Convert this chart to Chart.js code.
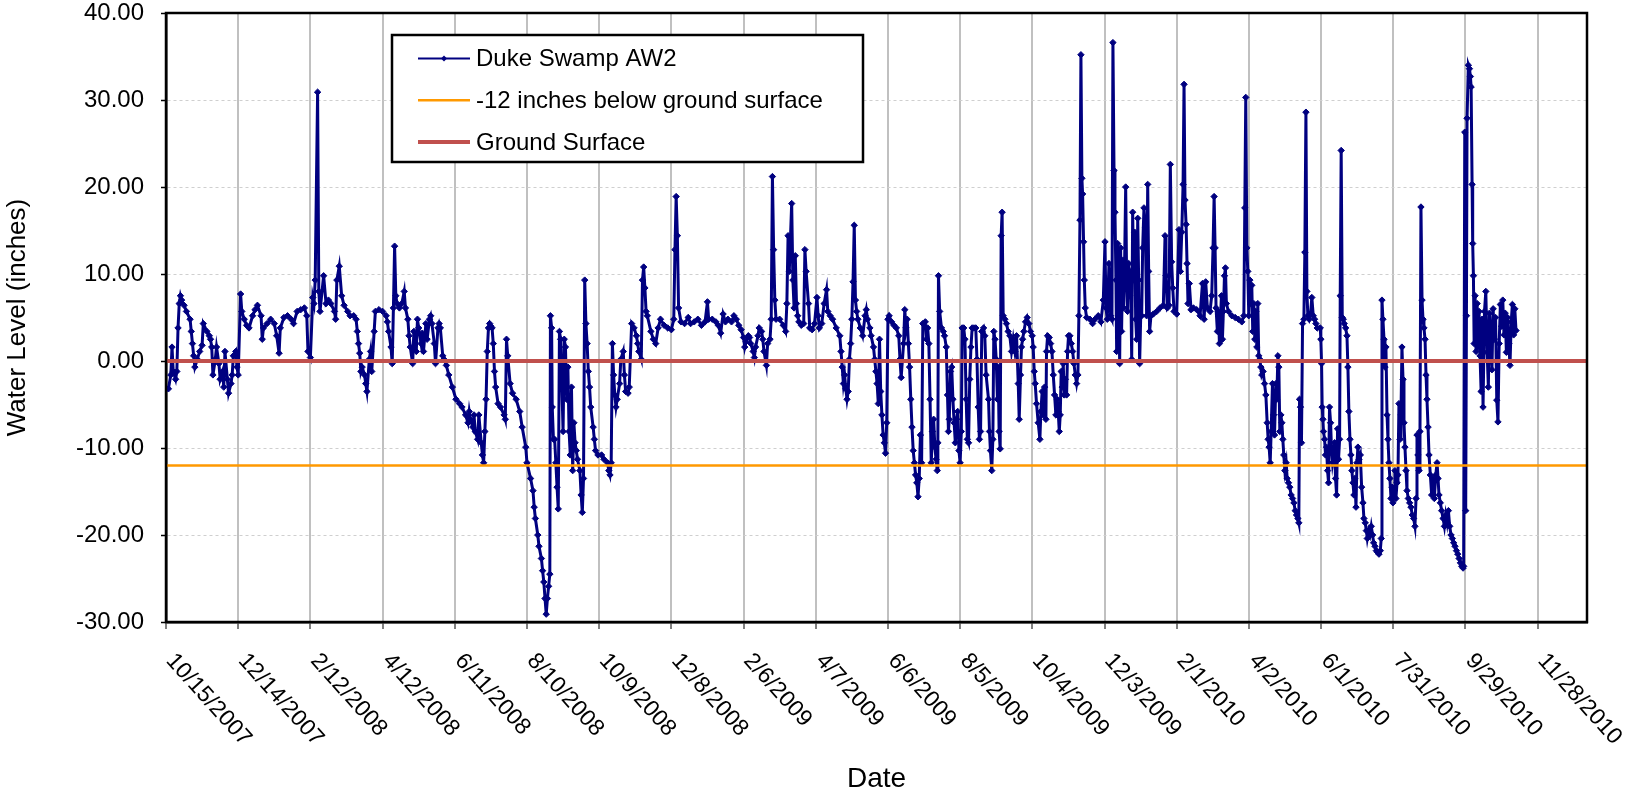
<!DOCTYPE html>
<html>
<head>
<meta charset="utf-8">
<title>Duke Swamp AW2 - Water Level</title>
<script src="https://cdn.jsdelivr.net/npm/chart.js@4.4.1/dist/chart.umd.min.js"></script>
<style>
  html, body { margin: 0; padding: 0; background: #fff; }
  #wrap { width: 1636px; height: 796px; }
</style>
</head>
<body>
<div id="wrap"><canvas id="chart" width="1636" height="796"></canvas></div>
<script>
// Water level at Duke Swamp AW2, days counted from 10/15/2007
const tickDays = [0, 60, 120, 180, 240, 300, 360, 420, 480, 540, 600, 660, 720, 780, 840, 900, 960, 1020, 1080, 1140];
const tickLabels = ['10/15/2007', '12/14/2007', '2/12/2008', '4/12/2008', '6/11/2008', '8/10/2008', '10/9/2008',
  '12/8/2008', '2/6/2009', '4/7/2009', '6/6/2009', '8/5/2009', '10/4/2009', '12/3/2009', '2/1/2010', '4/2/2010',
  '6/1/2010', '7/31/2010', '9/29/2010', '11/28/2010'];
const axisEndDay = 1181;
const belowGround = -12;
const groundSurface = 0;

const days = [
  2,4,5,6,8,9,10,11,12,13,15,17,
  20,21,22,23,24,26,28,30,31,34,36,37,
  38,39,41,42,44,45,47,48,49,51,52,54,
  55,56,58,59,60,62,63,65,67,69,72,74,
  76,79,80,81,84,87,90,92,94,95,98,101,
  104,106,109,112,115,117,118,120,122,123,124,126,
  127,128,131,133,135,137,140,141,142,144,146,148,
  151,153,156,158,159,160,161,162,163,165,166,167,
  169,170,171,173,174,177,180,183,184,185,187,188,
  189,190,191,192,194,196,198,199,201,202,203,205,
  206,208,209,210,212,213,214,216,217,219,220,221,
  223,224,226,227,228,230,231,233,235,238,241,244,
  246,249,251,252,253,255,256,257,259,260,262,263,
  264,265,266,267,268,269,270,271,272,273,274,276,
  278,281,282,283,284,286,288,291,294,296,299,300,
  303,305,306,307,309,310,312,313,314,315,316,317,
  318,319,319.5,320.5,321,322,323,324,325,326,327,328,
  329,330,331,332,333,334,335,336,337,338,339,340,
  341,342,344,345,346,347,348,349,350,351,352,353,
  355,356,357,359,362,364,367,368,369,370,371,372,
  373,374,375,377,378,380,381,382,384,385,387,389,
  391,392,393,395,396,397,398,399,400,403,405,407,
  409,411,414,417,420,422,423,424,425,426,428,431,
  434,436,439,442,445,448,450,451,454,457,459,461,
  463,465,467,470,472,474,476,478,480,481,482,484,
  485,486,488,489,490,492,493,495,496,497,499,500,
  502,503,504,505,506,507,510,513,515,516,517,518,
  520,521,522,523,524,525,526,528,530,531,532,534,
  535,537,539,541,542,543,545,547,549,550,552,554,
  557,560,561,562,563,564,565,566,567,568,569,570,
  571,572,573,574,575,577,579,581,582,583,585,586,
  588,589,590,591,592,593,594,595,596,597,598,599,
  600,601,603,605,607,609,610,611,613,614,615,616,
  617,618,619,620,621,622,623,624,625,626,627,628,
  629,631,632,633,634,635,636,637,638,639,640,641,
  641.5,642,643,644.5,646,647,648.5,649.5,650.3,651,652,653,
  654,655,656,657,658,659,660,661,661.7,663,664,665,
  666,667,668,669,670,671.5,673,674,675,676,677,678,
  679.5,680.5,681.6,683.6,684.4,685.2,686.3,687.2,688,689,690,691,
  691.6,692.4,693.3,694.1,694.9,695.8,697.2,698.5,699.9,701.3,702.7,704.1,
  705.5,706.9,708.3,709.1,710.2,711,711.9,713,714.4,715.7,717.1,718.5,
  719.9,720.7,721.6,722.4,723.5,724.9,726.3,727.1,728.2,729.1,730.2,731.3,
  731.8,732.7,734,735.2,736.3,737.4,738.5,739.6,740.7,741.5,742.4,743.2,
  744,744.9,745.7,746.5,747.4,748.5,749.3,750.1,751.2,752.4,753.5,754.6,
  755.7,756.8,757.9,758.7,759.6,760.4,761.2,761.8,762.6,763.2,764,765.1,
  767.9,770.1,772.1,774.8,777,779,780.4,781.2,782.3,783.7,785.1,786.2,
  787,787.9,788.7,789.5,790.1,790.9,791.7,792.6,793.4,794.2,795.1,795.9,
  796.7,797.6,798.4,799.2,800.1,800.9,801.7,802.6,803.4,804.2,805.1,805.9,
  806.7,807.6,808.4,809.2,810.1,810.9,811.7,812.8,813.9,815,815.9,816.7,
  817.5,818.6,820.6,823.4,826.1,828.9,830.3,831.1,832.2,833.6,834.7,835.8,
  836.7,837.8,840,841.9,843.1,844.2,845.3,846.1,846.9,847.8,848.6,849.4,
  850.5,851.9,853.9,856.6,859.4,861.4,862.8,864.1,865.5,867.7,869.1,870.2,
  871.1,871.9,872.7,873.8,874.7,875.5,876.3,877.2,878,878.8,879.7,880.5,
  881.3,883,885.8,888.6,891.3,894.1,895.8,896.6,897.4,898.3,899.1,899.9,
  900.8,901.6,902.4,903.2,904.1,904.9,905.7,906.6,907.4,908.2,909.1,909.9,
  910.7,911.8,913,914.1,915.2,916,916.8,917.7,918.5,919.6,920.5,921.3,
  922.4,923.2,924.1,924.9,925.7,926.6,927.4,928.2,929,929.9,931,931.8,
  932.9,934,935.1,936.3,937.4,938.5,939.6,940.7,941.5,942.1,942.9,943.7,
  944.6,945.7,946.5,947.4,948.2,949,950.1,951.2,952.3,953.5,954.6,955.7,
  956.8,959.3,959.8,960.4,960.9,961.5,962,962.9,963.7,964.5,965.4,966.2,
  967,967.9,968.7,969.5,970.4,971.2,972,972.9,973.7,974.5,975.4,975.9,
  976.7,977.6,978.4,979.2,980.4,981.5,982.3,983.1,984,984.8,985.6,986.5,
  987.3,988.1,989,989.8,990.6,991.5,992.6,993.7,994.8,995.6,996.7,997.6,
  998.4,999.5,1000.6,1001.7,1002.8,1003.7,1004.8,1005.9,1007,1008.1,1009.2,1010,
  1010.6,1011.4,1012.3,1013.1,1013.9,1014.8,1015.6,1016.4,1017.2,1018.1,1018.9,1019.7,
  1020.6,1021.4,1022.2,1023.1,1023.9,1024.7,1025.6,1026.4,1027.2,1028.1,1028.9,1029.7,
  1030.6,1031.4,1032.5,1033.6,1034.7,1035.8,1036.9,1038,1038.9,1039.7,1040.5,1041.4,
  1042.2,1043,1043.9,1044.7,1045.5,1046.4,1047.2,1048,1048.9,1049.7,1050.8,1051.9,
  1053,1054.1,1055.3,1056.4,1057.2,1058,1059.1,1060.2,1061.4,1062.5,1063.6,1064.7,
  1065.8,1066.9,1068,1069.1,1070.2,1071.3,1072.5,1073.6,1074.7,1075.8,1076.9,1078,
  1078.5,1079.4,1080.2,1080.8,1081.3,1082.4,1083.3,1084.1,1084.7,1085.5,1086,1086.6,
  1087.2,1088,1088.8,1089.7,1090.5,1091.3,1092.1,1093,1093.8,1094.6,1095.8,1096.9,
  1098,1099,1100,1101,1102,1103,1104,1105,1106,1107,1108,1109,
  1110,1111,1112,1113,1114,1115,1116,1117,1118,1119,1120,1121,1122
];

const waterLevel = [
  -3.2,-1.6,1.6,-1.2,-2.1,-1.2,3.8,6.6,7.5,7.0,6.4,5.7,
  4.8,3.4,2.0,0.6,-0.7,0.2,1.1,1.8,4.3,3.4,2.9,2.5,
  1.6,-1.6,0.2,1.6,-0.3,-2.1,-1.2,-3.0,1.1,-2.1,-3.7,-2.6,
  -1.6,0.6,1.1,-0.7,-1.6,7.7,5.7,4.8,4.1,3.8,5.2,5.9,
  6.4,5.2,2.5,3.8,4.3,4.8,4.3,2.9,0.9,3.8,5.0,5.2,
  4.8,4.3,5.7,5.9,6.1,5.2,1.1,0.4,7.3,6.6,9.3,30.9,
  8.0,5.7,9.8,6.6,7.0,6.6,5.7,4.8,9.3,10.9,7.5,6.4,
  5.7,5.2,5.2,4.8,3.4,2.0,0.9,-1.2,-0.7,-1.6,-2.6,-3.5,
  0.2,1.1,-1.2,3.4,5.7,5.9,5.7,5.2,4.5,3.4,1.6,-0.3,
  6.1,13.2,7.5,6.6,6.1,6.6,8.0,6.1,4.8,2.9,1.6,-0.3,
  3.4,1.1,4.8,3.8,2.0,3.2,1.1,4.3,2.5,4.8,5.2,4.3,
  2.0,-0.3,3.8,4.3,3.8,0.6,0.2,-0.5,-1.6,-3.0,-4.4,-4.9,
  -5.3,-6.2,-7.1,-5.8,-6.7,-7.6,-6.2,-8.1,-9.0,-6.2,-9.4,-10.8,
  -11.7,-8.1,-4.4,1.1,3.8,4.3,4.0,3.8,2.0,-1.2,-3.0,-4.9,
  -5.3,-6.2,-6.7,2.5,0.6,-2.6,-3.7,-4.4,-5.8,-7.6,-9.9,-11.7,
  -13.5,-14.9,-16.8,-18.1,-20.0,-21.3,-22.7,-24.1,-25.4,-27.3,-29.1,-27.3,
  -25.9,-24.5,5.2,3.8,-5.3,-9.0,-9.0,-11.7,-14.5,-17.0,3.4,2.5,
  -2.6,-8.1,2.5,1.6,-4.4,-0.7,-8.1,-10.8,-3.0,-12.6,-7.1,-9.4,
  -10.3,-11.3,-12.6,-15.4,-17.4,-13.5,9.3,4.3,2.0,-1.2,-3.0,-5.3,
  -7.6,-9.0,-10.3,-10.8,-10.8,-11.3,-11.7,-12.6,-13.1,-11.7,2.0,-1.6,
  -3.9,-5.3,-4.4,-2.6,0.2,1.1,-1.6,-3.5,-3.7,-3.0,4.3,3.8,
  2.9,2.0,1.1,0.2,9.3,10.8,8.4,5.7,5.2,3.4,2.5,2.0,
  3.8,4.8,4.1,3.8,3.6,4.8,12.8,18.9,14.4,6.1,4.5,4.3,
  5.0,4.3,4.5,4.8,4.1,4.5,6.8,4.8,4.8,4.5,4.1,3.2,
  5.4,4.5,4.8,4.5,5.2,4.8,4.1,3.6,2.7,1.6,2.2,2.9,
  2.7,2.0,1.1,0.4,1.6,2.9,3.8,3.4,2.5,1.1,-0.5,2.0,
  2.5,4.8,21.2,12.8,7.0,4.8,4.8,4.1,3.4,6.6,14.4,10.3,
  18.1,9.3,6.1,12.1,6.6,5.2,4.5,4.1,4.3,12.8,10.3,6.6,
  3.8,3.6,4.3,7.3,5.2,3.8,4.3,6.6,8.2,5.7,5.2,4.8,
  3.8,2.9,1.1,-0.7,-2.6,-1.6,-3.2,-4.4,-3.5,0.2,2.0,4.8,
  9.1,15.6,7.0,5.7,4.8,3.8,2.9,5.2,5.9,4.8,3.8,2.9,
  1.6,0.2,-1.2,-2.6,-4.9,2.5,-3.5,-6.2,-8.5,-9.4,-10.6,-7.1,
  4.8,5.2,4.5,4.1,3.8,2.9,0.2,-1.9,2.0,5.9,3.8,4.8,
  2.0,-0.7,-4.4,-7.6,-10.3,-11.7,-13.1,-14.0,-15.6,-13.5,-8.5,-11.7,
  4.3,4.5,2.5,3.8,2.0,-4.4,-11.7,-8.1,-6.7,-9.9,-11.3,-12.6,
  -9.4,9.8,5.7,3.8,3.4,2.9,1.6,-3.9,-8.1,-6.7,-1.2,-0.7,
  -4.4,-7.1,-9.4,-6.7,-5.8,-10.3,-11.7,-8.1,3.8,3.8,2.5,-4.4,
  -9.0,-9.4,-2.1,1.6,3.8,3.8,3.8,0.2,-5.3,-9.0,-8.1,3.4,
  3.8,2.9,-1.6,-4.4,-8.1,-10.3,-12.6,-9.0,3.4,2.5,0.2,-4.4,
  -0.7,-8.1,-10.1,14.4,17.1,5.2,4.8,4.3,3.4,2.9,1.1,2.5,
  1.1,2.9,-2.6,-6.7,-1.6,1.6,2.5,3.4,4.5,5.0,4.3,3.4,
  2.9,1.6,-1.2,-2.6,-4.9,-7.1,-9.0,-5.8,-3.5,-6.2,-3.0,-6.7,
  1.1,2.9,2.7,2.0,1.1,-1.6,-3.9,-6.2,-4.4,-5.8,-8.1,-6.2,
  -1.2,-3.0,-0.3,-3.9,-2.1,-3.9,1.1,2.9,2.9,2.0,1.1,-0.3,
  -1.6,-2.6,-1.6,5.2,16.2,35.2,21.0,19.2,13.7,9.3,6.1,5.0,
  4.8,4.3,4.8,5.2,4.5,7.0,13.7,6.1,4.8,11.2,5.2,4.8,
  36.6,21.9,17.1,9.3,1.1,13.5,9.8,-0.3,13.0,3.4,11.6,6.1,
  11.2,20.0,9.3,5.7,11.2,7.5,10.3,0.2,17.1,9.3,14.8,4.8,
  2.5,16.4,9.3,-0.3,5.2,5.2,13.0,17.6,15.3,5.2,20.3,10.3,
  3.4,5.2,5.4,5.7,6.1,6.4,14.4,9.8,6.1,6.4,22.6,11.4,
  8.4,5.7,5.4,15.1,10.3,14.8,20.3,31.8,18.5,15.7,11.2,6.6,
  8.9,5.9,6.1,5.9,5.2,8.9,4.8,9.1,6.1,5.7,7.5,13.0,
  18.9,13.0,6.1,3.4,5.7,2.0,4.8,7.5,2.5,5.7,9.8,10.7,
  6.6,5.7,5.2,5.0,4.8,4.5,5.2,17.6,30.3,13.0,10.3,5.2,
  9.3,6.6,8.7,3.4,6.6,2.5,5.7,1.6,6.6,0.6,0.2,-0.7,
  -1.6,-1.2,-2.6,-3.9,-7.1,-9.0,-9.9,-11.7,-8.1,-2.6,-6.2,-8.5,
  -2.6,-4.4,0.6,-0.7,-8.1,-6.2,-7.1,-9.0,-10.8,-12.6,-11.7,-13.5,
  -14.0,-14.5,-15.4,-15.8,-16.3,-17.2,-17.7,-18.1,-18.6,-4.4,-5.3,-9.4,
  4.3,4.8,12.5,28.6,8.0,5.2,4.8,5.4,7.3,5.2,4.8,4.3,
  3.8,3.8,2.5,-0.3,-5.3,-6.7,-8.1,-9.0,-10.8,-9.9,-12.6,-14.0,
  -5.3,-7.1,-10.3,-11.7,-10.8,-9.4,-13.5,-15.4,-7.8,-11.3,-9.0,7.5,
  24.2,5.0,4.8,4.3,3.8,2.9,-0.7,-5.8,-9.0,-10.8,-12.6,-14.0,
  -15.4,-13.5,-16.8,-11.7,-9.9,-11.3,-10.8,-14.5,-16.3,-18.1,-18.6,-19.5,
  -20.4,-19.5,-20.0,-19.0,-20.0,-20.9,-21.3,-21.8,-22.0,-22.2,-21.8,-20.4,
  7.0,4.8,2.5,-0.7,1.6,-6.2,-9.0,-11.7,-13.5,-15.8,-14.5,-16.3,
  -14.9,-12.6,-15.8,-14.0,-13.1,-4.9,-9.0,-6.2,1.6,-2.1,-7.1,-9.9,
  -12.6,-14.9,-15.8,-16.3,-16.8,-17.7,-18.1,-19.0,-15.8,-8.5,-10.8,-12.6,
  -8.1,17.7,7.0,4.8,3.8,2.5,-1.6,-4.4,-7.6,-10.8,-13.1,-15.4,
  -13.5,-15.8,-13.1,-11.7,-13.5,-15.4,-16.3,-17.2,-18.1,-19.0,-17.7,-18.6,
  -17.2,-19.0,-20.0,-20.4,-20.9,-21.3,-21.8,-22.2,-22.7,-23.2,-23.6,-23.8,
  -23.6,26.3,-17.2,5.2,27.9,34.0,33.6,32.7,31.5,20.3,13.5,9.8,
  2.0,7.5,1.1,6.6,1.6,5.7,0.6,-3.5,4.8,-5.3,5.7,8.0,
  1.0,-3.0,5.5,3.0,-1.0,6.0,2.5,5.0,-4.5,-7.0,2.0,6.5,
  4.0,7.0,3.0,5.5,1.0,5.0,2.0,-0.5,4.5,6.5,3.0,6.0,3.5
];

const fontFamily = '"Liberation Sans", Arial, Helvetica, sans-serif';
Chart.defaults.font.family = fontFamily;
Chart.defaults.color = '#000';

const series = days.map((d, i) => ({ x: d, y: waterLevel[i] }));

// black frame round the plot area
const plotFrame = {
  id: 'plotFrame',
  afterDatasetsDraw(chart) {
    const { ctx, chartArea: a } = chart;
    ctx.save();
    ctx.strokeStyle = '#000';
    ctx.lineWidth = 2.5;
    ctx.strokeRect(a.left, a.top, a.right - a.left, a.bottom - a.top);
    ctx.restore();
  }
};

// date labels slanting down to the right, starting at their tick
const slantedDates = {
  id: 'slantedDates',
  afterDraw(chart) {
    const xs = chart.scales.x;
    const ctx = chart.ctx;
    ctx.save();
    ctx.font = '23px ' + fontFamily;
    ctx.fillStyle = '#000';
    ctx.textAlign = 'left';
    ctx.textBaseline = 'middle';
    tickDays.forEach((d, i) => {
      const px = xs.getPixelForValue(d);
      ctx.save();
      ctx.translate(px + 4, xs.top + 35);
      ctx.rotate(48 * Math.PI / 180);
      ctx.fillText(tickLabels[i], 0, 0);
      ctx.restore();
    });
    ctx.restore();
  }
};

// boxed legend inside the plot
const boxLegend = {
  id: 'boxLegend',
  afterDraw(chart) {
    const { ctx, chartArea: a } = chart;
    const x = a.left + 226, y = a.top + 22, w = 471, h = 127;
    ctx.save();
    ctx.fillStyle = '#fff';
    ctx.fillRect(x, y, w, h);
    ctx.strokeStyle = '#000';
    ctx.lineWidth = 2.5;
    ctx.strokeRect(x, y, w, h);
    ctx.font = '24px ' + fontFamily;
    ctx.textBaseline = 'middle';
    chart.data.datasets.forEach((ds, i) => {
      const ry = y + 23.5 + i * 41.7;
      ctx.strokeStyle = ds.borderColor;
      ctx.lineWidth = i === 0 ? 2 : ds.borderWidth;
      ctx.beginPath();
      ctx.moveTo(x + 26, ry);
      ctx.lineTo(x + 78, ry);
      ctx.stroke();
      if (ds.pointRadius > 0) {
        ctx.fillStyle = ds.borderColor;
        ctx.beginPath();
        ctx.moveTo(x + 52, ry - 3);
        ctx.lineTo(x + 55, ry);
        ctx.lineTo(x + 52, ry + 3);
        ctx.lineTo(x + 49, ry);
        ctx.closePath();
        ctx.fill();
      }
      ctx.fillStyle = '#000';
      ctx.fillText(ds.label, x + 84, ry + 1);
    });
    ctx.restore();
  }
};

new Chart(document.getElementById('chart'), {
  type: 'line',
  data: {
    datasets: [
      {
        label: 'Duke Swamp AW2',
        data: series,
        borderColor: '#000080',
        backgroundColor: '#000080',
        borderWidth: 3,
        pointStyle: 'rectRot',
        pointRadius: 3.2,
        pointBorderWidth: 1,
        tension: 0,
        order: 3
      },
      {
        label: '-12 inches below ground surface',
        data: [{ x: 0, y: belowGround }, { x: axisEndDay, y: belowGround }],
        borderColor: '#FF9900',
        borderWidth: 2.5,
        pointRadius: 0,
        order: 2
      },
      {
        label: 'Ground Surface',
        data: [{ x: 0, y: groundSurface }, { x: axisEndDay, y: groundSurface }],
        borderColor: '#C0504D',
        borderWidth: 4,
        pointRadius: 0,
        order: 1
      }
    ]
  },
  options: {
    responsive: false,
    animation: false,
    layout: { padding: { top: 13, right: 49, bottom: 0, left: 0 } },
    plugins: {
      legend: { display: false },
      tooltip: { enabled: false }
    },
    scales: {
      x: {
        type: 'linear',
        min: 0,
        max: axisEndDay,
        afterBuildTicks: s => { s.ticks = tickDays.map(v => ({ value: v })); },
        afterFit: s => { s.height = 174; },
        ticks: { display: false },
        grid: { color: '#c0c0c0', lineWidth: 2, tickLength: 7, tickColor: '#000', tickWidth: 1 },
        border: { display: true, color: '#000', width: 2.5 },
        title: {
          display: true,
          text: 'Date',
          font: { size: 28 },
          color: '#000',
          padding: { top: 0, bottom: 0 }
        }
      },
      y: {
        min: -30,
        max: 40,
        afterFit: s => { s.width = 166; s.paddingTop = 0; s.paddingBottom = 0; },
        ticks: {
          stepSize: 10,
          padding: 17,
          font: { size: 24, lineHeight: 1.1 },
          color: '#000',
          callback: v => v.toFixed(2)
        },
        grid: { color: '#cfcfcf', lineWidth: 1, tickLength: 5, tickColor: '#000', tickWidth: 1.5 },
        border: { display: true, color: '#000', width: 2.5, dash: [3, 3] },
        title: {
          display: true,
          text: 'Water Level (inches)',
          font: { size: 26 },
          color: '#000',
          padding: { top: 2, bottom: 0 }
        }
      }
    }
  },
  plugins: [plotFrame, slantedDates, boxLegend]
});
</script>
</body>
</html>
